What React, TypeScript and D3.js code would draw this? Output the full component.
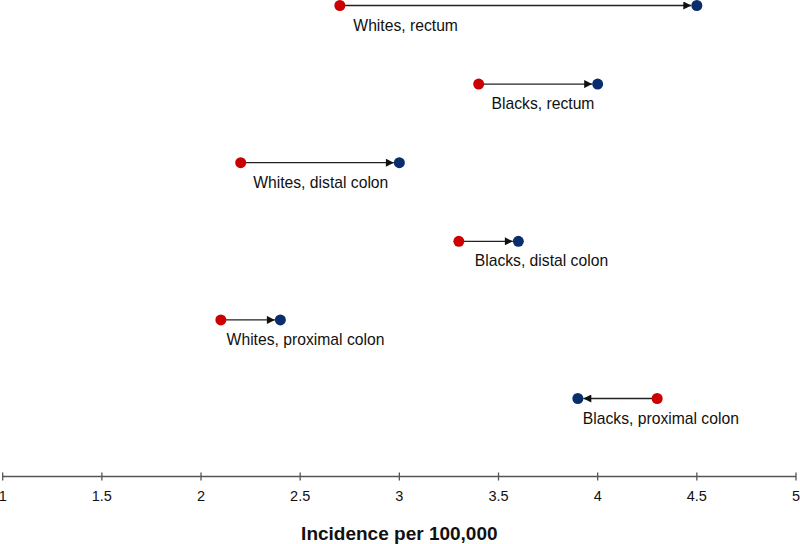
import React from "react";
import * as d3 from "d3";

const groups = [
  "Whites, rectum",
  "Blacks, rectum",
  "Whites, distal colon",
  "Blacks, distal colon",
  "Whites, proximal colon",
  "Blacks, proximal colon",
];
const fromValues = [2.7, 3.4, 2.2, 3.3, 2.1, 4.3];
const toValues = [4.5, 4.0, 3.0, 3.6, 2.4, 3.9];
const labelAt = [2.768, 3.465, 2.263, 3.38, 2.129, 3.925];
const ticks = [1, 1.5, 2, 2.5, 3, 3.5, 4, 4.5, 5];
const axisTitle = "Incidence per 100,000";

const W = 800;
const H = 544;
const FONT = "Arial, 'Liberation Sans', Helvetica, sans-serif";
const RED = "#cc0000";
const BLUE = "#0a2d6e";
const R = 5.5;

export default function App() {
  const x = d3.scaleLinear().domain([1, 5]).range([2.7, 796]);
  const y = d3
    .scalePoint<string>()
    .domain(groups)
    .range([5.5, 398.5]);
  const axisY = 476.5;

  return (
    <svg
      width={W}
      height={H}
      style={{ position: "absolute", left: 0, top: 0, background: "#fff" }}
      fontFamily={FONT}
    >
      <defs>
        <marker
          id="arr"
          viewBox="0 0 10 10"
          refX="10"
          refY="5"
          markerWidth="10"
          markerHeight="8"
          markerUnits="userSpaceOnUse"
          orient="auto"
        >
          <path d="M0,0 L10,5 L0,10 z" fill="#111" />
        </marker>
      </defs>
      {groups.map((g, i) => {
        const cy = y(g)!;
        const x0 = x(fromValues[i]);
        const x1 = x(toValues[i]);
        const dir = x1 > x0 ? 1 : -1;
        return (
          <g key={g}>
            <line
              x1={x0}
              y1={cy}
              x2={x1 - dir * R}
              y2={cy}
              stroke="#222"
              strokeWidth={1.3}
              markerEnd="url(#arr)"
            />
            <circle cx={x0} cy={cy} r={R} fill={RED} />
            <circle cx={x1} cy={cy} r={R} fill={BLUE} />
            <text
              x={x(labelAt[i])}
              y={cy + 25}
              fontSize={15.7}
              fill="#111"
            >
              {g}
            </text>
          </g>
        );
      })}
      <line
        x1={x(1)}
        x2={x(5)}
        y1={axisY}
        y2={axisY}
        stroke="#555"
        strokeWidth={1.3}
      />
      {ticks.map((t) => (
        <g key={t}>
          <line
            x1={x(t)}
            x2={x(t)}
            y1={axisY - 4}
            y2={axisY + 4}
            stroke="#555"
            strokeWidth={1.3}
          />
          <text
            x={x(t)}
            y={500.5}
            textAnchor="middle"
            fontSize={14.5}
            fill="#111"
          >
            {t}
          </text>
        </g>
      ))}
      <text
        x={x(3)}
        y={540}
        textAnchor="middle"
        fontSize={19}
        fontWeight="bold"
        fill="#111"
      >
        {axisTitle}
      </text>
    </svg>
  );
}
